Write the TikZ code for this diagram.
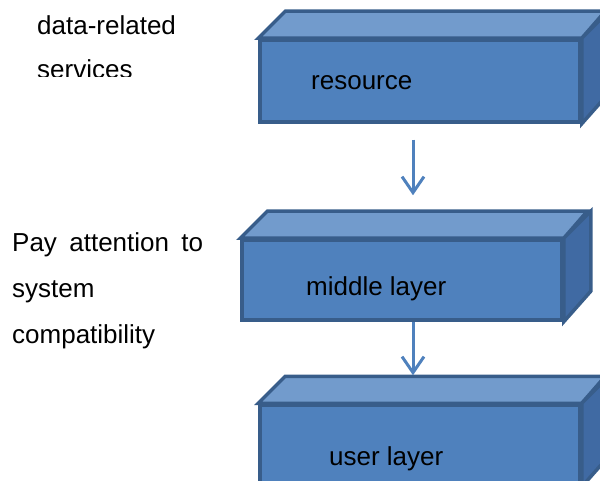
\documentclass[tikz,border=0pt]{standalone}
\usepackage{fontspec}
\setmainfont{Liberation Sans}
\usetikzlibrary{arrows.meta, positioning, calc}

\definecolor{frontblue}{RGB}{79, 129, 189}
\definecolor{topblue}{RGB}{114, 155, 204}
\definecolor{sideblue}{RGB}{64, 106, 163}
\definecolor{edgeblue}{RGB}{56, 93, 138}

\begin{document}
\begin{tikzpicture}[x=1pt, y=-1pt,
    layerbox/.style={draw=edgeblue, fill=frontblue, line width=3.5pt, minimum width=320pt, inner sep=0pt},
    topface/.style={draw=edgeblue, fill=topblue, line width=3.5pt, line join=miter},
    sideface/.style={draw=edgeblue, fill=sideblue, line width=3.5pt, line join=miter},
    layertext/.style={font=\fontsize{26}{30}\selectfont, inner sep=0pt, anchor=base west},
    notetext/.style={font=\fontsize{26}{46}\selectfont, inner sep=0pt, align=left, anchor=base west},
    flow/.style={draw=frontblue, line width=3pt, -{Straight Barb[length=16pt, width=22pt, line width=3pt]}}]
    \clip (0,0) rectangle (600,481);

    % Front faces of the three layers
    \node[layerbox, minimum height=82pt] (res) at (420,81) {};
    \node[layerbox, minimum height=80pt] (mid) at (402,280) {};
    \node[layerbox, minimum height=80pt] (usr) at (420,445) {};

    % Top and right faces
    \foreach \b/\h in {res/82, mid/80, usr/80} {
        \filldraw[topface] (\b.north west) -- ++(27,-27) -- ++(320,0) -- (\b.north east) -- cycle;
        \filldraw[sideface] (\b.north east) -- ++(27,-27) -- ++(0,\h) -- (\b.south east) -- cycle;
        \coordinate (\b-back) at ([shift={(27,-27)}]\b.north west);
    }

    % Layer names
    \node[layertext] (res-text) at ([shift={(-109,9)}]res.center) {resource};
    \node[layertext] (mid-text) at ([shift={(-96,15)}]mid.center) {middle layer};
    \node[layertext] (usr-text) at ([shift={(-91,20)}]usr.center) {user layer};

    % Arrows between layers
    \draw[flow, shorten <=16pt, shorten >=16pt] ([xshift=-7]res.south) -- ([xshift=-7]res.south |- mid-back);
    \draw[flow, shorten >=1pt] ([xshift=11]mid.south) -- ([xshift=11]mid.south |- usr-back);

    % Side notes (base anchor sits on the last line)
    \begin{scope}
        \clip (0,0) rectangle (250,77);
        \node[notetext, font=\fontsize{26}{43.5}\selectfont] (data-note) at (37,78.5) {data-related\\services};
    \end{scope}
    \node[notetext] (compat-note) at (12,343) {\makebox[191pt][s]{Pay attention to}\\system\\compatibility};
\end{tikzpicture}
\end{document}
